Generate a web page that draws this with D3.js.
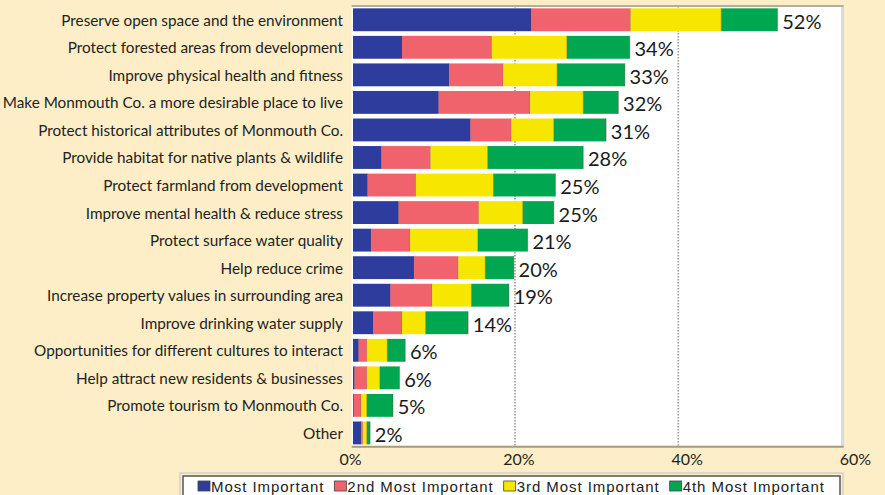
<!DOCTYPE html>
<html><head><meta charset="utf-8">
<script src="https://cdn.jsdelivr.net/npm/d3@7"></script>
<style>
body{margin:0;background:#fdeec8;}
svg{display:block}
</style>
</head><body>
<svg id="c" width="885" height="495"></svg>
<script>
const categories = [
  "Preserve open space and the environment",
  "Protect forested areas from development",
  "Improve physical health and fitness",
  "Make Monmouth Co. a more desirable place to live",
  "Protect historical attributes of Monmouth Co.",
  "Provide habitat for native plants & wildlife",
  "Protect farmland from development",
  "Improve mental health & reduce stress",
  "Protect surface water quality",
  "Help reduce crime",
  "Increase property values in surrounding area",
  "Improve drinking water supply",
  "Opportunities for different cultures to interact",
  "Help attract new residents & businesses",
  "Promote tourism to Monmouth Co.",
  "Other"
];
const mostImportant = [21.8, 6.0, 11.8, 10.5, 14.4, 3.5, 1.8, 5.6, 2.2, 7.5, 4.6, 2.5, 0.7, 0.2, 0.1, 1.0];
const secondMost    = [12.2, 11.0, 6.6, 11.2, 5.0, 6.0, 5.9, 9.8, 4.8, 5.4, 5.1, 3.5, 1.0, 1.5, 0.9, 0.2];
const thirdMost     = [11.1, 9.2, 6.6, 6.5, 5.2, 7.0, 9.5, 5.4, 8.3, 3.3, 4.8, 2.9, 2.5, 1.6, 0.7, 0.5];
const fourthMost    = [6.9, 7.7, 8.3, 4.3, 6.4, 11.7, 7.6, 3.8, 6.1, 3.5, 4.6, 5.2, 2.2, 2.4, 3.2, 0.4];
const totalLabels   = ["52%","34%","33%","32%","31%","28%","25%","25%","21%","20%","19%","14%","6%","6%","5%","2%"];
const seriesNames = ["Most Important","2nd Most Important","3rd Most Important","4th Most Important"];
const seriesColors = ["#2e3c9e","#f0636c","#f6e600","#00a650"];
const xTicks = [0, 20, 40, 60];

const svg = d3.select("#c");
const W = 885, H = 495;
svg.append("rect").attr("width", W).attr("height", H).attr("fill", "#fdeec8");

const plot = {left: 351.7, right: 841.6, top: 6, bottom: 446.7};
const x = d3.scaleLinear().domain([0, 60]).range([plot.left, plot.right]);
const y = d3.scaleBand().domain(categories).range([plot.top, plot.bottom]).paddingInner(0.17).paddingOuter(0.085);

const keys = ["s0","s1","s2","s3"];
const rows = categories.map((c, i) => ({cat: c, s0: mostImportant[i], s1: secondMost[i], s2: thirdMost[i], s3: fourthMost[i], label: totalLabels[i]}));
const stacked = d3.stack().keys(keys)(rows);

// plot background
svg.append("rect").attr("x", plot.left).attr("y", plot.top)
  .attr("width", plot.right - plot.left + 1.5).attr("height", plot.bottom - plot.top)
  .attr("fill", "#ffffff");
// right border shading
svg.append("line").attr("x1", plot.right + 1).attr("x2", plot.right + 1)
  .attr("y1", plot.top).attr("y2", plot.bottom).attr("stroke", "#d9d9e2").attr("stroke-width", 3);

// gridlines
svg.append("g").selectAll("line").data(xTicks.filter(t => t > 0 && t < 60)).join("line")
  .attr("x1", d => x(d)).attr("x2", d => x(d))
  .attr("y1", plot.top).attr("y2", plot.bottom)
  .attr("stroke", "#9a9a9a").attr("stroke-width", 1.6).attr("stroke-dasharray", "1.5,1.5");

// bars
const layer = svg.append("g").selectAll("g").data(stacked).join("g")
  .attr("fill", (d, i) => seriesColors[i]);
layer.selectAll("rect").data(d => d).join("rect")
  .attr("x", d => x(d[0]) + 1.3)
  .attr("y", d => y(d.data.cat))
  .attr("width", d => Math.max(0, x(d[1]) - x(d[0])))
  .attr("height", y.bandwidth());
// thin separators between segments
layer.selectAll("line").data(d => d.filter(p => p[1] - p[0] > 0)).join("line")
  .attr("x1", d => x(d[1]) + 1.3).attr("x2", d => x(d[1]) + 1.3)
  .attr("y1", d => y(d.data.cat)).attr("y2", d => y(d.data.cat) + y.bandwidth())
  .attr("stroke", "#6a3a3a").attr("stroke-opacity", 0.45).attr("stroke-width", 0.8);

// plot top and bottom borders
svg.append("line").attr("x1", plot.left).attr("x2", plot.right + 2)
  .attr("y1", plot.top).attr("y2", plot.top).attr("stroke", "#b3ae98").attr("stroke-width", 2);
svg.append("line").attr("x1", plot.left).attr("x2", plot.right + 2)
  .attr("y1", plot.bottom).attr("y2", plot.bottom).attr("stroke", "#a89a78").attr("stroke-width", 2);

// category labels
svg.append("g").selectAll("text").data(rows).join("text")
  .attr("x", 343).attr("y", d => y(d.cat) + y.bandwidth() / 2)
  .attr("text-anchor", "end").attr("dominant-baseline", "central")
  .attr("font-family", "Lato, 'Noto Sans', sans-serif").attr("font-size", 15.3)
  .attr("fill", "#231f20").text(d => d.cat);

// total labels
const totals = rows.map(r => r.s0 + r.s1 + r.s2 + r.s3);
svg.append("g").selectAll("text").data(rows).join("text")
  .attr("x", (d, i) => x(totals[i]) + 6).attr("y", d => y(d.cat) + y.bandwidth() / 2 + 1)
  .attr("dominant-baseline", "central")
  .attr("font-family", "Lato, 'Noto Sans', sans-serif").attr("font-size", 20)
  .attr("fill", "#1a1a1a").text(d => d.label);

// x axis labels
const xLabel = d3.scaleLinear().domain([0, 60]).range([350, 855]);
const axis = svg.append("g").attr("transform", `translate(0,${plot.bottom + 4})`)
  .call(d3.axisBottom(xLabel).tickValues(xTicks).tickFormat(d => d + "%").tickSize(0).tickPadding(3));
axis.select(".domain").remove();
axis.selectAll("text").attr("font-family", "Lato, 'Noto Sans', sans-serif").attr("font-size", 16).attr("fill", "#231f20");

// legend
const lg = svg.append("g");
lg.append("rect").attr("x", 180).attr("y", 473).attr("width", 663).attr("height", 30)
  .attr("fill", "none").attr("stroke", "#cfcfcf").attr("stroke-width", 1.5);
lg.append("rect").attr("x", 183).attr("y", 476).attr("width", 657).attr("height", 25)
  .attr("fill", "#ffffff").attr("stroke", "#555555").attr("stroke-width", 1.5);
let lx = 198;
seriesNames.forEach((name, i) => {
  lg.append("rect").attr("x", lx).attr("y", 481).attr("width", 12).attr("height", 10)
    .attr("fill", seriesColors[i]).attr("stroke", "#444").attr("stroke-width", 0.8);
  const t = lg.append("text").attr("x", lx + 13).attr("y", 486)
    .attr("dominant-baseline", "central")
    .attr("font-family", "'Liberation Sans Narrow', 'Arial Narrow', sans-serif")
    .attr("font-size", 15).attr("letter-spacing", 0.95).attr("fill", "#222").text(name);
  lx += 13 + t.node().getComputedTextLength() + 10;
});
</script>
</body></html>
